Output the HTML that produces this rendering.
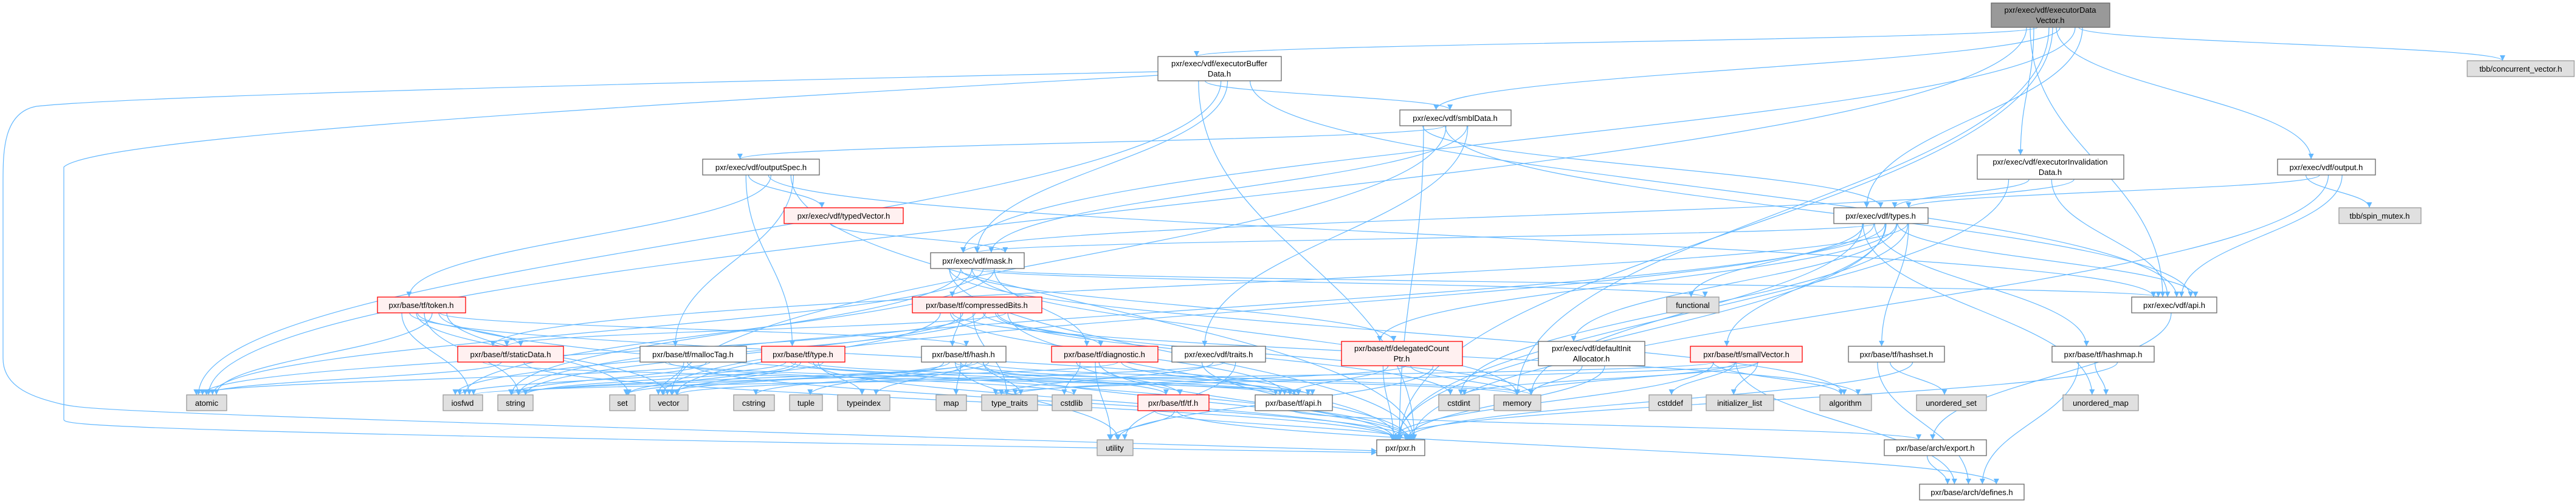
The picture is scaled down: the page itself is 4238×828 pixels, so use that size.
<!DOCTYPE html>
<html><head><meta charset="utf-8"><style>
html,body{margin:0;padding:0;background:#fff;}
svg{display:block;}
text{font-family:"Liberation Sans",sans-serif;font-size:13px;fill:#000;}
.w{fill:#fff;stroke:#666;stroke-width:1.3}
.g{fill:#e0e0e0;stroke:#999;stroke-width:1.3}
.r{fill:#fff0f0;stroke:#ff0000;stroke-width:1.3}
.t{fill:#999;stroke:#666;stroke-width:1.3}
</style></head><body>
<svg id="s" width="4238" height="828" viewBox="0 0 4238 828" xmlns="http://www.w3.org/2000/svg">
<defs><marker id="a" viewBox="0 0 10 10" refX="10" refY="5" markerWidth="9" markerHeight="9" markerUnits="userSpaceOnUse" orient="auto"><path d="M0,0L10,5L0,10z" fill="#63b8ff"/></marker></defs>
<g id="edges" fill="none" stroke="#63b8ff" stroke-width="1.2">
<path d="M1905,118 C900,140 200,160 60,175 C5,185 5,250 5,300 L5,590 C5,640 60,655 100,665 C150,676 200,680 2265,742" marker-end="url(#a)"/>
<path d="M1905,124 C900,180 150,230 105,275 L105,690 C105,700 110,710 2265,745" marker-end="url(#a)"/>
</g>
<g id="nodes">
<rect class="t" x="3276" y="5" width="195" height="40"/><text x="3373" y="21" text-anchor="middle">pxr/exec/vdf/executorData</text><text x="3373" y="38" text-anchor="middle">Vector.h</text>
<rect class="g" x="4059" y="100" width="176" height="26"/><text x="4147" y="118" text-anchor="middle">tbb/concurrent_vector.h</text>
<rect class="w" x="1905" y="93" width="203" height="40"/><text x="2006" y="109" text-anchor="middle">pxr/exec/vdf/executorBuffer</text><text x="2006" y="126" text-anchor="middle">Data.h</text>
<rect class="w" x="2303" y="181" width="183" height="26"/><text x="2394" y="199" text-anchor="middle">pxr/exec/vdf/smblData.h</text>
<rect class="w" x="3253" y="255" width="241" height="40"/><text x="3373" y="271" text-anchor="middle">pxr/exec/vdf/executorInvalidation</text><text x="3373" y="288" text-anchor="middle">Data.h</text>
<rect class="w" x="3747" y="262" width="161" height="26"/><text x="3827" y="280" text-anchor="middle">pxr/exec/vdf/output.h</text>
<rect class="w" x="1156" y="262" width="192" height="26"/><text x="1252" y="280" text-anchor="middle">pxr/exec/vdf/outputSpec.h</text>
<rect class="r" x="1290" y="342" width="196" height="26"/><text x="1388" y="360" text-anchor="middle">pxr/exec/vdf/typedVector.h</text>
<rect class="w" x="3017" y="342" width="155" height="26"/><text x="3094" y="360" text-anchor="middle">pxr/exec/vdf/types.h</text>
<rect class="g" x="3848" y="342" width="135" height="26"/><text x="3915" y="360" text-anchor="middle">tbb/spin_mutex.h</text>
<rect class="w" x="1531" y="416" width="154" height="26"/><text x="1608" y="434" text-anchor="middle">pxr/exec/vdf/mask.h</text>
<rect class="r" x="621" y="489" width="145" height="26"/><text x="693" y="507" text-anchor="middle">pxr/base/tf/token.h</text>
<rect class="r" x="1501" y="489" width="213" height="26"/><text x="1607" y="507" text-anchor="middle">pxr/base/tf/compressedBits.h</text>
<rect class="g" x="2742" y="489" width="86" height="26"/><text x="2785" y="507" text-anchor="middle">functional</text>
<rect class="w" x="3507" y="489" width="140" height="26"/><text x="3577" y="507" text-anchor="middle">pxr/exec/vdf/api.h</text>
<rect class="r" x="753" y="570" width="174" height="26"/><text x="840" y="588" text-anchor="middle">pxr/base/tf/staticData.h</text>
<rect class="w" x="1053" y="570" width="175" height="26"/><text x="1140" y="588" text-anchor="middle">pxr/base/tf/mallocTag.h</text>
<rect class="r" x="1253" y="570" width="137" height="26"/><text x="1321" y="588" text-anchor="middle">pxr/base/tf/type.h</text>
<rect class="w" x="1516" y="570" width="139" height="26"/><text x="1585" y="588" text-anchor="middle">pxr/base/tf/hash.h</text>
<rect class="r" x="1730" y="570" width="175" height="26"/><text x="1817" y="588" text-anchor="middle">pxr/base/tf/diagnostic.h</text>
<rect class="w" x="1928" y="570" width="154" height="26"/><text x="2005" y="588" text-anchor="middle">pxr/exec/vdf/traits.h</text>
<rect class="r" x="2207" y="562" width="199" height="40"/><text x="2306" y="578" text-anchor="middle">pxr/base/tf/delegatedCount</text><text x="2306" y="595" text-anchor="middle">Ptr.h</text>
<rect class="w" x="2531" y="562" width="175" height="40"/><text x="2618" y="578" text-anchor="middle">pxr/exec/vdf/defaultInit</text><text x="2618" y="595" text-anchor="middle">Allocator.h</text>
<rect class="r" x="2781" y="570" width="184" height="26"/><text x="2873" y="588" text-anchor="middle">pxr/base/tf/smallVector.h</text>
<rect class="w" x="3041" y="570" width="158" height="26"/><text x="3120" y="588" text-anchor="middle">pxr/base/tf/hashset.h</text>
<rect class="w" x="3376" y="570" width="168" height="26"/><text x="3460" y="588" text-anchor="middle">pxr/base/tf/hashmap.h</text>
<rect class="g" x="307" y="650" width="66" height="26"/><text x="340" y="668" text-anchor="middle">atomic</text>
<rect class="g" x="729" y="650" width="65" height="26"/><text x="761" y="668" text-anchor="middle">iosfwd</text>
<rect class="g" x="819" y="650" width="58" height="26"/><text x="848" y="668" text-anchor="middle">string</text>
<rect class="g" x="1003" y="650" width="42" height="26"/><text x="1024" y="668" text-anchor="middle">set</text>
<rect class="g" x="1069" y="650" width="63" height="26"/><text x="1100" y="668" text-anchor="middle">vector</text>
<rect class="g" x="1207" y="650" width="67" height="26"/><text x="1240" y="668" text-anchor="middle">cstring</text>
<rect class="g" x="1299" y="650" width="54" height="26"/><text x="1326" y="668" text-anchor="middle">tuple</text>
<rect class="g" x="1378" y="650" width="86" height="26"/><text x="1421" y="668" text-anchor="middle">typeindex</text>
<rect class="g" x="1540" y="650" width="50" height="26"/><text x="1565" y="668" text-anchor="middle">map</text>
<rect class="g" x="1615" y="650" width="92" height="26"/><text x="1661" y="668" text-anchor="middle">type_traits</text>
<rect class="g" x="1731" y="650" width="65" height="26"/><text x="1763" y="668" text-anchor="middle">cstdlib</text>
<rect class="r" x="1872" y="650" width="117" height="26"/><text x="1930" y="668" text-anchor="middle">pxr/base/tf/tf.h</text>
<rect class="w" x="2065" y="650" width="127" height="26"/><text x="2128" y="668" text-anchor="middle">pxr/base/tf/api.h</text>
<rect class="g" x="2367" y="650" width="67" height="26"/><text x="2400" y="668" text-anchor="middle">cstdint</text>
<rect class="g" x="2458" y="650" width="77" height="26"/><text x="2496" y="668" text-anchor="middle">memory</text>
<rect class="g" x="2713" y="650" width="70" height="26"/><text x="2748" y="668" text-anchor="middle">cstddef</text>
<rect class="g" x="2807" y="650" width="111" height="26"/><text x="2862" y="668" text-anchor="middle">initializer_list</text>
<rect class="g" x="2994" y="650" width="85" height="26"/><text x="3036" y="668" text-anchor="middle">algorithm</text>
<rect class="g" x="3153" y="650" width="115" height="26"/><text x="3210" y="668" text-anchor="middle">unordered_set</text>
<rect class="g" x="3394" y="650" width="124" height="26"/><text x="3456" y="668" text-anchor="middle">unordered_map</text>
<rect class="g" x="1805" y="724" width="59" height="26"/><text x="1834" y="742" text-anchor="middle">utility</text>
<rect class="w" x="2265" y="724" width="79" height="26"/><text x="2304" y="742" text-anchor="middle">pxr/pxr.h</text>
<rect class="w" x="3100" y="724" width="168" height="26"/><text x="3184" y="742" text-anchor="middle">pxr/base/arch/export.h</text>
<rect class="w" x="3158" y="797" width="172" height="26"/><text x="3244" y="815" text-anchor="middle">pxr/base/arch/defines.h</text>
</g>
</svg>
<script>
var N={EDV:[3276,5,195,40],tbbcv:[4059,100,176,26],EBD:[1905,93,203,40],smbl:[2303,181,183,26],EID:[3253,255,241,40],output:[3747,262,161,26],oSpec:[1156,262,192,26],tVec:[1290,342,196,26],types:[3017,342,155,26],spin:[3848,342,135,26],mask:[1531,416,154,26],token:[621,489,145,26],cb:[1501,489,213,26],func:[2742,489,86,26],vapi:[3507,489,140,26],sd:[753,570,174,26],mt:[1053,570,175,26],type:[1253,570,137,26],hash:[1516,570,139,26],diag:[1730,570,175,26],traits:[1928,570,154,26],dcp:[2207,562,199,40],dia:[2531,562,175,40],sv:[2781,570,184,26],hset:[3041,570,158,26],hmap:[3376,570,168,26],atomic:[307,650,66,26],iosfwd:[729,650,65,26],string:[819,650,58,26],set:[1003,650,42,26],vector:[1069,650,63,26],cstring:[1207,650,67,26],tuple:[1299,650,54,26],typeindex:[1378,650,86,26],map:[1540,650,50,26],tt:[1615,650,92,26],cstdlib:[1731,650,65,26],tf:[1872,650,117,26],tfapi:[2065,650,127,26],cstdint:[2367,650,67,26],memory:[2458,650,77,26],cstddef:[2713,650,70,26],il:[2807,650,111,26],algo:[2994,650,85,26],uset:[3153,650,115,26],umap:[3394,650,124,26],utility:[1805,724,59,26],pxr:[2265,724,79,26],exp:[3100,724,168,26],def:[3158,797,172,26]};
var E="EDV>EBD EDV>smbl EDV>types EDV>EID EDV>output EDV>tbbcv EDV>vapi EDV>pxr EDV>mask EDV>atomic EDV>memory EBD>smbl EBD>mask EBD>vapi EBD>pxr EBD>atomic smbl>oSpec smbl>mask smbl>types smbl>vapi smbl>traits smbl>pxr smbl>vector oSpec>tVec oSpec>token oSpec>mt oSpec>type oSpec>vapi oSpec>pxr tVec>mask EID>types EID>vapi EID>mask EID>pxr output>types output>vapi output>spin output>pxr types>mask types>vapi types>func types>sv types>hset types>hmap types>dia types>umap types>pxr types>cstdint types>vector types>dcp types>memory types>string types>sd mask>cb mask>diag mask>dcp mask>vapi mask>pxr mask>func mask>iosfwd mask>string mask>atomic mask>algo mask>memory cb>hash cb>diag cb>sd cb>tfapi cb>tt cb>cstdint cb>vector cb>string cb>iosfwd cb>pxr cb>algo cb>atomic cb>memory token>sd token>hash token>tfapi token>atomic token>iosfwd token>string token>set token>vector token>pxr sd>atomic sd>pxr sd>tfapi mt>vector mt>string mt>tfapi mt>pxr mt>atomic mt>cstdlib type>vector type>string type>set type>typeindex type>tfapi type>pxr type>iosfwd type>memory hash>map hash>tt hash>utility hash>string hash>vector hash>set hash>tuple hash>typeindex hash>cstring hash>tf hash>pxr hash>tfapi hash>memory diag>utility diag>string diag>tf diag>pxr diag>tfapi diag>cstdlib traits>tt traits>utility traits>pxr traits>vector dcp>tfapi dcp>memory dcp>utility dcp>pxr dcp>tt dia>memory dia>pxr sv>cstddef sv>il sv>algo sv>memory sv>cstdint sv>pxr sv>def sv>tt sv>iosfwd hset>uset hset>pxr hset>def hmap>umap hmap>pxr hmap>def tfapi>exp tf>utility tf>pxr tf>def vapi>exp exp>def".split(" ");
var g=document.getElementById("edges"),cnt={};
E.forEach(function(e,i){var p=e.split(">"),a=N[p[0]],b=N[p[1]];if(!a||!b)return;
cnt[p[0]]=(cnt[p[0]]||0)+1;cnt[p[1]+"i"]=(cnt[p[1]+"i"]||0)+1;
var ox=((cnt[p[0]]*37)%(a[2]*0.6))-a[2]*0.3,ix=((cnt[p[1]+"i"]*23)%(b[2]*0.6))-b[2]*0.3;
var x1=a[0]+a[2]/2+ox,y1=a[1]+a[3],x2=b[0]+b[2]/2+ix,y2=b[1],d;
if(y2<=y1+4){ if(b[0]>a[0]+a[2]){x1=a[0]+a[2];y1=a[1]+a[3]/2;x2=b[0];y2=b[1]+b[3]/2;}else{x1=a[0];y1=a[1]+a[3]/2;x2=b[0]+b[2];y2=b[1]+b[3]/2;}
 d="M"+x1+","+y1+" C"+((x1+x2)/2)+","+y1+" "+((x1+x2)/2)+","+y2+" "+x2+","+y2;}
else{var dy=(y2-y1)*0.45;d="M"+x1+","+y1+" C"+x1+","+(y1+dy)+" "+x2+","+(y2-dy)+" "+x2+","+y2;}
var el=document.createElementNS("http://www.w3.org/2000/svg","path");el.setAttribute("d",d);el.setAttribute("marker-end","url(#a)");g.appendChild(el);});
</script>
</body></html>
